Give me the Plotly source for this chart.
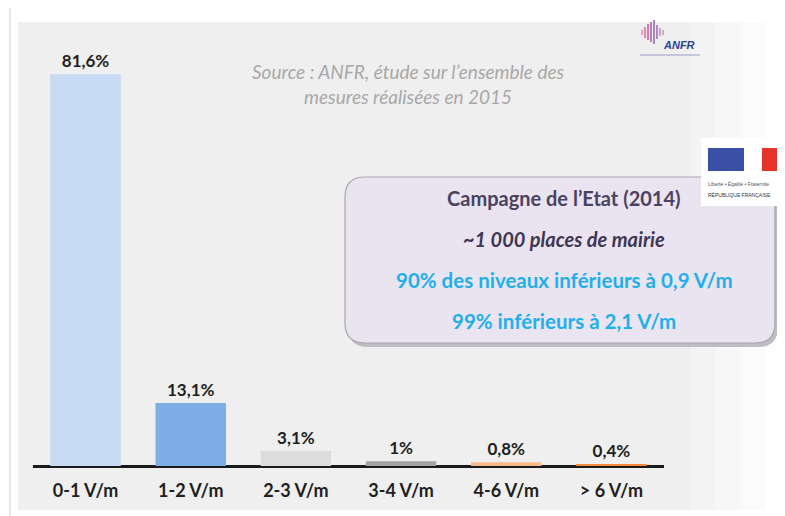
import plotly.graph_objects as go

categories = ["0-1 V/m", "1-2 V/m", "2-3 V/m", "3-4 V/m", "4-6 V/m", "> 6 V/m"]
values = [81.6, 13.1, 3.1, 1.0, 0.8, 0.4]
value_labels = ["81,6%", "13,1%", "3,1%", "1%", "0,8%", "0,4%"]
bar_colors = ["#c6dbf3", "#7faee6", "#dcdcdc", "#a3a3a3", "#f9b98a", "#f58a3c"]

W, H = 785, 516
OFF = 8  # page body margin offset
L, R, T, B = 33 - OFF, 129, 34 - OFF, 58
PW, PH = W - L - R, H - T - B


def px(x):
    return (x - OFF - L) / PW


def py(y):
    return (H - B - (y - OFF)) / PH


def rounded_path(x0, y0, x1, y1, r):
    pts = []
    pts.append(f"M {px(x0 + r)},{py(y0)}")
    pts.append(f"L {px(x1 - r)},{py(y0)}")
    pts.append(f"Q {px(x1)},{py(y0)} {px(x1)},{py(y0 + r)}")
    pts.append(f"L {px(x1)},{py(y1 - r)}")
    pts.append(f"Q {px(x1)},{py(y1)} {px(x1 - r)},{py(y1)}")
    pts.append(f"L {px(x0 + r)},{py(y1)}")
    pts.append(f"Q {px(x0)},{py(y1)} {px(x0)},{py(y1 - r)}")
    pts.append(f"L {px(x0)},{py(y0 + r)}")
    pts.append(f"Q {px(x0)},{py(y0)} {px(x0 + r)},{py(y0)}")
    pts.append("Z")
    return " ".join(pts)


FONT = "Lato"

fig = go.Figure()
fig.add_trace(go.Bar(
    x=categories, y=values,
    marker=dict(color=bar_colors, line=dict(width=0)),
    text=value_labels, textposition="outside", cliponaxis=False,
    textfont=dict(family=FONT, size=17, color="#1e1e1e", weight="bold"),
    hoverinfo="skip",
))

shapes = []
shapes.append(dict(type="line", xref="paper", yref="paper", x0=px(10), x1=px(800), y0=py(5), y1=py(5),
                   line=dict(color="#cfcfcf", width=1), layer="below"))
shapes.append(dict(type="line", xref="paper", yref="paper", x0=px(10), x1=px(10), y0=py(5), y1=py(530),
                   line=dict(color="#cfcfcf", width=1), layer="below"))
bg_steps = [(18, 690, "#efefef"), (690, 715, "#f3f3f3"), (715, 740, "#f7f7f7"), (740, 765, "#fbfbfb")]
for x0, x1, c in bg_steps:
    shapes.append(dict(type="rect", xref="paper", yref="paper", x0=px(x0), x1=px(x1), y0=py(22), y1=py(510),
                       fillcolor=c, line=dict(width=0), layer="below"))
shapes.append(dict(type="path", xref="paper", yref="paper", path=rounded_path(348, 180, 778, 347, 20),
                   fillcolor="#bdbdc4", line=dict(width=0), layer="below"))
shapes.append(dict(type="path", xref="paper", yref="paper", path=rounded_path(345, 177, 775, 343, 20),
                   fillcolor="#e9e4ef", line=dict(color="#a9a6ad", width=1.2), layer="below"))
wave = [(642, 30, 35, "#e88ac0"), (645, 27, 38, "#e06aa8"), (648, 24, 40, "#d85aa0"), (651, 22, 42, "#b060b0"),
        (654, 20, 44, "#8c6cc0"), (657, 25, 39, "#a070b8"), (660, 28, 36, "#c090c8"), (663, 30, 35, "#b8a0d0")]
for x, y0, y1, c in wave:
    shapes.append(dict(type="line", xref="paper", yref="paper", x0=px(x), x1=px(x), y0=py(y0), y1=py(y1),
                       line=dict(color=c, width=1.6)))
shapes.append(dict(type="line", xref="paper", yref="paper", x0=px(640), x1=px(700), y0=py(55), y1=py(55),
                   line=dict(color="#9a9ac8", width=1)))
shapes.append(dict(type="rect", xref="paper", yref="paper", x0=px(701), x1=px(790), y0=py(138), y1=py(206),
                   fillcolor="#ffffff", line=dict(width=0)))
shapes.append(dict(type="rect", xref="paper", yref="paper", x0=px(708), x1=px(744), y0=py(148), y1=py(171),
                   fillcolor="#3a4fa6", line=dict(width=0)))
shapes.append(dict(type="rect", xref="paper", yref="paper", x0=px(762), x1=px(790), y0=py(148), y1=py(171),
                   fillcolor="#e8322c", line=dict(width=0)))

fig.update_layout(shapes=shapes)

annotations = []
annotations.append(dict(text="<i>Source : ANFR, étude sur l’ensemble des<br>mesures réalisées en 2015</i>",
                        xref="paper", yref="paper", x=px(408), y=py(84), xanchor="center", yanchor="middle",
                        showarrow=False, align="center",
                        font=dict(family=FONT, size=19, color="#a8a8a8")))
box_lines = [
    ("<b>Campagne de l’Etat (2014)</b>", 198, "#4b4262", 20),
    ("<b><i>~1 000 places de mairie</i></b>", 239, "#3f3653", 20),
    ("<b>90% des niveaux inférieurs à 0,9 V/m</b>", 280, "#1fb0ea", 20.5),
    ("<b>99% inférieurs à 2,1 V/m</b>", 321, "#1fb0ea", 20.5),
]
for t, y, c, s in box_lines:
    annotations.append(dict(text=t, xref="paper", yref="paper", x=px(564), y=py(y), xanchor="center",
                            yanchor="middle", showarrow=False, font=dict(family=FONT, size=s, color=c)))
annotations.append(dict(text="<b><i>ANFR</i></b>", xref="paper", yref="paper", x=px(679), y=py(45),
                        xanchor="center", yanchor="middle", showarrow=False,
                        font=dict(family="Liberation Sans", size=11, color="#2d3f95")))
annotations.append(dict(text="Liberté • Égalité • Fraternité", xref="paper", yref="paper", x=px(706), y=py(184),
                        xanchor="left", yanchor="middle", showarrow=False,
                        font=dict(family="Liberation Sans", size=5, color="#555555")))
annotations.append(dict(text="RÉPUBLIQUE FRANÇAISE", xref="paper", yref="paper", x=px(706), y=py(195),
                        xanchor="left", yanchor="middle", showarrow=False,
                        font=dict(family="Liberation Sans", size=5, color="#333333")))

fig.update_layout(
    annotations=annotations,
    width=W, height=H,
    margin=dict(l=L, r=R, t=T, b=B, pad=0),
    paper_bgcolor="#ffffff",
    plot_bgcolor="rgba(0,0,0,0)",
    bargap=0.33,
    showlegend=False,
    xaxis=dict(showgrid=False, zeroline=False, showline=False, ticks="",
               tickfont=dict(family=FONT, size=18, color="#1e1e1e", weight="bold"),
               range=[-0.5, 5.5], fixedrange=True, ticklabelstandoff=12),
    yaxis=dict(range=[0, 90], showgrid=False, zeroline=True, zerolinecolor="#1a1a1a", zerolinewidth=2.5,
               showticklabels=False, showline=False, ticks="", fixedrange=True),
)

fig.write_html("out.html")
